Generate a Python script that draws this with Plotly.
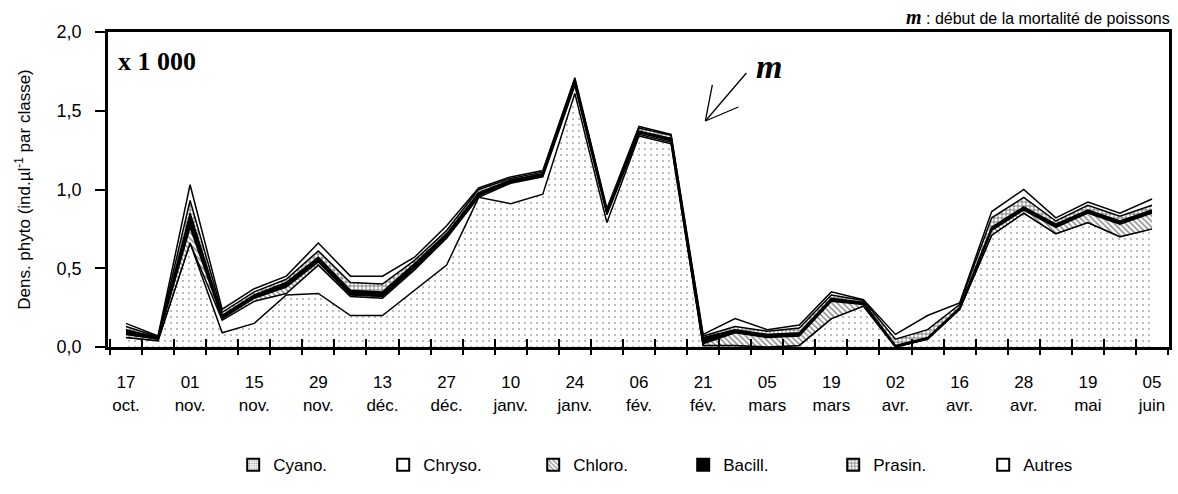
import plotly.graph_objects as go

# ---- data (x 1000 ind./µl) ----
sample = list(range(33))
label_days = ["17", "01", "15", "29", "13", "27", "10", "24", "06", "21", "05", "19", "02", "16", "28", "19", "05"]
label_months = ["oct.", "nov.", "nov.", "nov.", "déc.", "déc.", "janv.", "janv.", "fév.", "fév.",
                "mars", "mars", "avr.", "avr.", "avr.", "mai", "juin"]
label_pos = [0, 2, 4, 6, 8, 10, 12, 14, 16, 18, 20, 22, 24, 26, 28, 30, 32]
tick_pos = [-0.5, 0.5, 1.5, 2.5, 3.5, 4.5, 5.5, 6.5, 7.5, 8.5, 9.5, 10.5, 11.5, 12.5, 13.5, 14.5, 15.5,
            16.5, 17.5, 18.5, 19.5, 20.5, 21.5, 22.5, 23.5, 24.5, 25.5, 26.5, 27.5, 28.5, 29.5, 30.5, 31.5, 32.5]

cyano = [0.06, 0.04, 0.66, 0.09, 0.15, 0.33, 0.34, 0.20, 0.20, 0.36, 0.52, 0.95, 0.91, 0.97, 1.61, 0.79, 1.34,
         1.29, 0.01, 0.01, 0.00, 0.01, 0.18, 0.26, 0.00, 0.05, 0.24, 0.71, 0.85, 0.72, 0.79, 0.70, 0.75]
chryso = [0.00, 0.00, 0.00, 0.08, 0.14, 0.01, 0.18, 0.12, 0.11, 0.13, 0.17, 0.00, 0.13, 0.11, 0.05, 0.05, 0.01,
          0.01, 0.00, 0.00, 0.00, 0.00, 0.00, 0.00, 0.00, 0.00, 0.00, 0.00, 0.00, 0.00, 0.00, 0.00, 0.00]
chloro = [0.02, 0.01, 0.10, 0.01, 0.02, 0.04, 0.02, 0.01, 0.01, 0.01, 0.01, 0.01, 0.005, 0.005, 0.01, 0.01, 0.01,
          0.01, 0.01, 0.08, 0.06, 0.06, 0.11, 0.01, 0.00, 0.00, 0.00, 0.03, 0.02, 0.04, 0.06, 0.08, 0.10]
bacill = [0.03, 0.01, 0.09, 0.02, 0.02, 0.03, 0.03, 0.03, 0.03, 0.03, 0.02, 0.02, 0.015, 0.015, 0.02, 0.01, 0.01,
          0.015, 0.04, 0.02, 0.02, 0.02, 0.02, 0.015, 0.01, 0.01, 0.01, 0.02, 0.02, 0.02, 0.02, 0.02, 0.02]
prasin = [0.02, 0.005, 0.08, 0.02, 0.02, 0.02, 0.04, 0.05, 0.05, 0.02, 0.02, 0.02, 0.01, 0.01, 0.01, 0.01, 0.02,
          0.02, 0.01, 0.02, 0.02, 0.03, 0.02, 0.01, 0.04, 0.05, 0.02, 0.06, 0.06, 0.02, 0.03, 0.03, 0.03]
autres = [0.02, 0.005, 0.10, 0.02, 0.02, 0.02, 0.05, 0.04, 0.05, 0.02, 0.03, 0.01, 0.01, 0.01, 0.01, 0.01, 0.01,
          0.005, 0.01, 0.05, 0.01, 0.02, 0.02, 0.005, 0.03, 0.09, 0.01, 0.04, 0.05, 0.02, 0.02, 0.02, 0.04]

names = ["Cyano.", "Chryso.", "Chloro.", "Bacill.", "Prasin.", "Autres"]
series = [cyano, chryso, chloro, bacill, prasin, autres]
patterns = [
    dict(shape=".", fgcolor="#555555", bgcolor="white", size=6, solidity=0.1),
    dict(shape="", fgcolor="white", bgcolor="white"),
    dict(shape="\\", fgcolor="black", bgcolor="white", size=4, solidity=0.35),
    dict(shape="", fgcolor="black", bgcolor="black"),
    dict(shape="+", fgcolor="black", bgcolor="white", size=4, solidity=0.45),
    dict(shape="", fgcolor="white", bgcolor="white"),
]
fills = ["white", "white", "white", "black", "white", "white"]

FONT = "Liberation Sans, Arial, sans-serif"
SERIF = "Liberation Serif, Times New Roman, serif"

fig = go.Figure()
for nm, vals, pat, fc in zip(names, series, patterns, fills):
    fig.add_trace(go.Scatter(
        x=sample, y=vals, name=nm, stackgroup="one", mode="lines",
        line=dict(color="black", width=1.5), fillcolor=fc,
        fillpattern=pat if pat["shape"] else None,
        showlegend=False, legendgroup=nm, hoverinfo="skip"))

# legend entries (square icons)
for nm, pat, fc in zip(names, patterns, fills):
    mp = dict(shape=pat["shape"], fgcolor=pat["fgcolor"], bgcolor=pat["bgcolor"],
              size=pat.get("size", 4), solidity=pat.get("solidity", 0.3)) if pat["shape"] else None
    if nm == "Cyano.":
        mp = dict(shape=".", fgcolor="#333333", bgcolor="white", size=3, solidity=0.3)
    fig.add_trace(go.Bar(x=[None], y=[None], name=nm, legendgroup=nm,
                         marker=dict(color=fc, line=dict(color="black", width=1), pattern=mp)))

# helper traces for tick-mark axes
fig.add_trace(go.Scatter(x=[None], y=[None], xaxis="x2", showlegend=False, hoverinfo="skip"))
fig.add_trace(go.Scatter(x=[None], y=[None], xaxis="x3", showlegend=False, hoverinfo="skip"))

xr = [-0.56, 32.53]
fig.update_layout(
    width=1178, height=494,
    margin=dict(l=108, r=6, t=32, b=147),
    paper_bgcolor="white", plot_bgcolor="white",
    font=dict(family=FONT, size=17, color="black"),
    showlegend=True,
    legend=dict(orientation="h", x=0.118, xanchor="left", y=-0.375, yanchor="middle",
                font=dict(size=17), entrywidth=105, entrywidthmode="pixels",
                itemsizing="constant", bgcolor="rgba(0,0,0,0)", traceorder="normal"),
    xaxis=dict(range=xr, tickmode="array", tickvals=label_pos,
               ticktext=[d + "<br>" + m for d, m in zip(label_days, label_months)],
               ticks="", showgrid=False, zeroline=False, ticklabelstandoff=18,
               showline=True, linecolor="black", linewidth=3, mirror=True,
               tickfont=dict(size=17)),
    xaxis2=dict(range=xr, overlaying="x", anchor="y", side="bottom", tickmode="array",
                tickvals=tick_pos, showticklabels=False, ticks="outside", ticklen=7,
                tickwidth=2, tickcolor="black", showgrid=False, zeroline=False, showline=False),
    xaxis3=dict(range=xr, overlaying="x", anchor="y", side="bottom", tickmode="array",
                tickvals=tick_pos, showticklabels=False, ticks="inside", ticklen=8,
                tickwidth=2, tickcolor="black", showgrid=False, zeroline=False, showline=False),
    yaxis=dict(range=[0, 2.0], tickmode="array", tickvals=[0, 0.5, 1.0, 1.5, 2.0],
               ticktext=["0,0", "0,5", "1,0", "1,5", "2,0"], ticks="outside", ticklen=10,
               tickwidth=2, tickcolor="black", showgrid=False, zeroline=False,
               showline=True, linecolor="black", linewidth=2.5, mirror=True,
               ticklabelstandoff=10, tickfont=dict(size=18),
               title=dict(text="Dens. phyto (ind.µl<sup>-1</sup> par classe)", font=dict(size=17),
                          standoff=22)),
    barmode="overlay",
)

fig.add_annotation(x=0.008, y=0.96, xref="paper", yref="paper", xanchor="left", yanchor="top",
                   text="<b>x 1 000</b>", showarrow=False, font=dict(family=SERIF, size=26))
fig.add_annotation(x=1.0, y=1.0, xref="paper", yref="paper", xanchor="right", yanchor="bottom",
                   yshift=2, xshift=3, showarrow=False,
                   text="<b><i><span style='font-family:Liberation Serif;font-size:20px'>m</span></i></b> : début de la mortalité de poissons",
                   font=dict(size=16))

# arrow (open V head) pointing to the start of fish mortality
tip_x, tip_y = 18.07, 1.435
arrow_segments = [(41, 48), (7, 36), (33, 14)]  # pixel offsets from the tip
for dx, dy in arrow_segments:
    fig.add_shape(type="line", xref="x", yref="y", xsizemode="pixel", ysizemode="pixel",
                  xanchor=tip_x, yanchor=tip_y, x0=0, y0=0, x1=dx, y1=dy,
                  line=dict(color="black", width=1.3))
fig.add_annotation(x=20.06, y=1.78, text="<b><i>m</i></b>", showarrow=False,
                   font=dict(family=SERIF, size=34))

fig.write_html("out.html")
